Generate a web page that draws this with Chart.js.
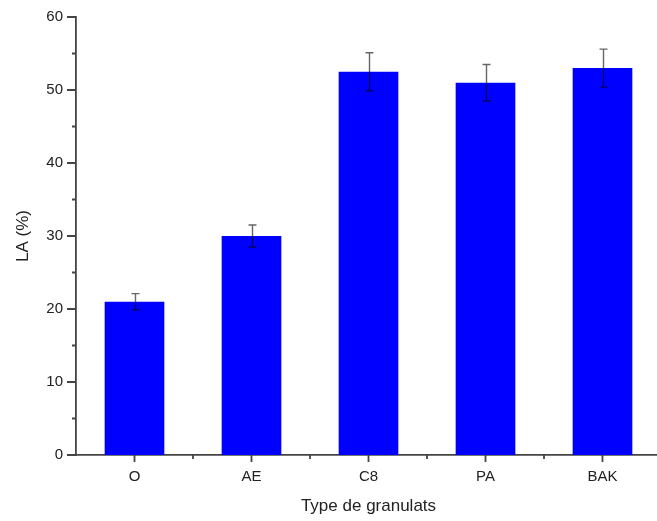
<!DOCTYPE html>
<html>
<head>
<meta charset="utf-8">
<script src="https://cdn.jsdelivr.net/npm/chart.js@4/dist/chart.umd.min.js"></script>
<style>
  html, body { margin: 0; padding: 0; background: #fff; }
  .wrap { width: 657px; height: 521px; overflow: hidden; position: relative; }
  .wrap canvas { position: absolute; left: 0; top: 0; }
</style>
</head>
<body>
<div class="wrap"><canvas id="laChart" width="665" height="521"></canvas></div>
<script>
const categories = ['O', 'AE', 'C8', 'PA', 'BAK'];
const laValues = [21, 30, 52.5, 51, 53];
const laErrors = [1.1, 1.5, 2.6, 2.5, 2.6];
const yMajorTicks = [0, 10, 20, 30, 40, 50, 60];
const yMinorTicks = [5, 15, 25, 35, 45, 55];

const AXIS_COLOR = '#444';
const TEXT_COLOR = '#222';

// error bars on top of each bar
const errorBars = {
  id: 'errorBars',
  afterDatasetsDraw(chart) {
    const ctx = chart.ctx;
    const y = chart.scales.y;
    const meta = chart.getDatasetMeta(0);
    ctx.save();
    ctx.strokeStyle = 'rgba(0,0,0,0.6)';
    ctx.lineWidth = 1.4;
    meta.data.forEach((bar, i) => {
      const v = laValues[i], e = laErrors[i];
      const top = y.getPixelForValue(v + e);
      const bot = y.getPixelForValue(v - e);
      const x = Math.round(bar.x) + 0.5;
      ctx.beginPath();
      ctx.moveTo(x, top); ctx.lineTo(x, bot);
      ctx.moveTo(x - 4, top); ctx.lineTo(x + 4, top);
      ctx.moveTo(x - 4, bot); ctx.lineTo(x + 4, bot);
      ctx.stroke();
    });
    ctx.restore();
  }
};

// axis ticks: majors outside, minors shorter
const axisTicks = {
  id: 'axisTicks',
  afterDraw(chart) {
    const ctx = chart.ctx;
    const { x, y } = chart.scales;
    const area = chart.chartArea;
    ctx.save();
    ctx.strokeStyle = AXIS_COLOR;
    ctx.lineWidth = 1.8;
    ctx.beginPath();
    yMajorTicks.forEach(t => {
      const py = y.getPixelForValue(t);
      ctx.moveTo(area.left - 9, py); ctx.lineTo(area.left, py);
    });
    yMinorTicks.forEach(t => {
      const py = y.getPixelForValue(t);
      ctx.moveTo(area.left - 4, py); ctx.lineTo(area.left, py);
    });
    categories.forEach((c, i) => {
      const px = x.getPixelForValue(i);
      ctx.moveTo(px, area.bottom); ctx.lineTo(px, area.bottom + 7);
      if (i > 0) {
        const bx = (x.getPixelForValue(i - 1) + px) / 2;
        ctx.moveTo(bx, area.bottom); ctx.lineTo(bx, area.bottom + 4);
      }
    });
    ctx.stroke();
    ctx.restore();
  }
};

new Chart(document.getElementById('laChart'), {
  type: 'bar',
  data: {
    labels: categories,
    datasets: [{
      data: laValues,
      backgroundColor: '#0000ff',
      borderWidth: 0,
      categoryPercentage: 1,
      barPercentage: 0.51,
    }],
  },
  options: {
    responsive: false,
    animation: false,
    layout: { padding: { top: 17, right: 4, left: 0, bottom: 0 } },
    plugins: { legend: { display: false }, tooltip: { enabled: false } },
    scales: {
      x: {
        grid: { display: false, drawTicks: false },
        border: { display: true, color: AXIS_COLOR, width: 1.8 },
        ticks: { color: TEXT_COLOR, font: { family: 'Liberation Sans', size: 15 }, padding: 13 },
        title: { display: true, text: 'Type de granulats', color: TEXT_COLOR,
                 font: { family: 'Liberation Sans', size: 17 }, padding: { top: 13 } },
        afterFit: s => { s.height = 66; },
      },
      y: {
        min: 0, max: 60,
        afterBuildTicks: s => { s.ticks = yMajorTicks.map(v => ({ value: v })); },
        grid: { display: false, drawTicks: false },
        border: { display: true, color: AXIS_COLOR, width: 1.8 },
        ticks: { color: TEXT_COLOR, font: { family: 'Liberation Sans', size: 15 }, padding: 13 },
        title: { display: true, text: 'LA (%)', color: TEXT_COLOR,
                 font: { family: 'Liberation Sans', size: 17 }, padding: { top: 13, bottom: 0 } },
        afterFit: s => { s.width = 76; s.paddingTop = 0; s.paddingBottom = 0; },
      },
    },
  },
  plugins: [errorBars, axisTicks],
});
</script>
</body>
</html>
